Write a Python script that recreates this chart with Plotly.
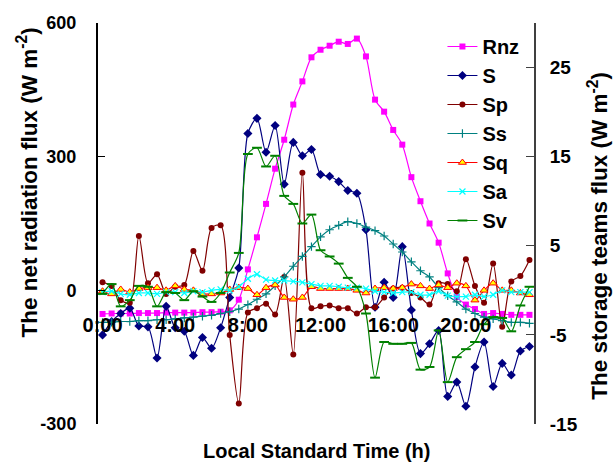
import plotly.graph_objects as go

hours = [i * 0.5 for i in range(48)]
tick_vals = [0, 4, 8, 12, 16, 20]
tick_text = ["0:00", "4:00", "8:00", "12:00", "16:00", "20:00"]

Rnz = [-53, -52, -52, -52, -51, -51, -51, -50, -50, -50, -50, -49, -49, -48, -45, -21,
       47, 119, 194, 273, 338, 417, 469, 523, 540, 549, 558, 553, 565, 525, 428, 401,
       360, 327, 254, 200, 150, 107, 38, -15, -32, -42, -53, -51, -53, -55, -55, -55]
S = [-5.0, -3.5, -2.6, -2.0, -4.0, -4.1, -7.6, -1.8, -4.2, -4.6, -7.3, -5.3, -6.5, -4.2, -0.8, 2.5,
     17.6, 19.3, 15.5, 18.5, 11.9, 16.6, 15.1, 15.8, 13.0, 12.8, 12.2, 11.2, 10.9, 6.8, -1.9, 0.9,
     -0.8, 4.9, -2.2, -7.1, -6.0, -4.5, -11.9, -10.3, -13.0, -8.6, -5.8, -10.8, -8.2, -9.5, -6.8, -6.3]
Sp = [0.9, 0.5, -1.1, -1.4, 6.1, 0.8, 1.8, -0.4, 0.4, 0.6, 4.4, 2.2, 7.0, 7.3, -5.0, -12.7,
      -2.5, -2.0, -1.5, -2.7, 1.5, -7.2, 13.2, -2.0, -1.8, -1.7, -2.0, -2.0, -2.6, -1.9, -1.9, -0.8,
      0.2, 0.3, -0.3, -0.8, -1.6, 0.8, 0.7, -0.1, 3.5, 0.5, -1.4, 3.0, -4.1, 1.0, 1.6, 3.4]
Ss = [-3.6, -3.6, -3.5, -3.5, -3.4, -3.4, -3.3, -3.3, -3.2, -3.1, -3.0, -2.9, -2.8, -2.6, -2.4, -2.1,
      -1.6, -1.0, -0.4, 0.5, 1.5, 2.7, 3.8, 4.9, 6.0, 6.8, 7.3, 7.7, 7.5, 7.1, 6.7, 6.1,
      5.2, 4.3, 3.2, 2.2, 1.5, 0.3, -0.6, -1.3, -2.1, -2.6, -3.0, -3.2, -3.4, -3.6, -3.6, -3.7]
Sq = [-0.1, -0.4, 0.1, -0.2, 0.2, 0.3, 0.3, 0.0, 0.5, 0.1, 0.0, -0.4, -0.4, -0.3, 0.1, 0.3,
      0.2, -0.5, 0.3, 0.6, -0.8, -1.0, -0.8, 0.4, 0.2, 0.2, 0.2, 0.2, 0.0, -0.3, 0.2, 0.3,
      0.2, 0.3, 0.7, 0.5, 0.2, 0.6, 0.3, 0.8, 0.5, -1.1, 0.0, 0.8, 0.0, 0.0, -0.3, -0.5]
Sa = [-0.2, -0.1, -0.4, -0.5, -0.3, -0.3, -0.4, -0.2, -0.2, -0.3, -0.1, -0.2, 0.0, 0.1, 0.0, 0.4,
      1.3, 1.8, 1.2, 1.1, 1.1, 1.0, 0.9, 0.7, 0.5, 0.5, 0.4, 0.3, 0.3, 0.2, -0.1, -0.2,
      -0.3, -0.2, -0.2, -0.5, -0.5, -0.1, -0.6, -0.7, -0.7, -0.5, -0.7, -0.5, 0.0, -0.2, -0.2, -0.2]
Sv = [-0.4, 0.7, -1.8, -1.1, 0.5, 0.4, -1.8, -0.2, -0.3, -1.1, -0.1, -0.7, -1.3, -0.3, 2.0, 4.2,
      15.3, 16.0, 13.9, 15.1, 10.6, 9.7, 7.5, 8.5, 4.5, 3.8, 3.0, 1.4, 0.4, -2.6, -9.8, -5.8,
      -6.0, -6.0, -5.9, -8.9, -8.6, -4.5, -10.3, -7.5, -6.6, -5.8, -3.8, -3.0, -3.1, -4.6, -1.7, 0.4]

FONT = "Arial, Liberation Sans, sans-serif"
X_RANGE = [-0.25, 23.75]

fig = go.Figure()

def add(name, y, color, symbol, size, axis, mcolor=None, mline=None, lw=1.2):
    marker = dict(symbol=symbol, size=size, color=mcolor or color)
    if mline is not None:
        marker["line"] = mline
    fig.add_trace(go.Scatter(
        x=hours, y=y, name="<b>%s</b>" % name, yaxis=axis, mode="lines+markers",
        line=dict(color=color, width=lw, shape="spline", smoothing=0.8),
        marker=marker))

add("Rnz", Rnz, "#FF00FF", "square", 6, "y")
add("S", S, "#000080", "diamond", 7, "y2")
add("Sp", Sp, "#800000", "circle", 6, "y2")
add("Ss", Ss, "#008080", "cross-thin", 6, "y2", mline=dict(color="#008080", width=1.2))
add("Sq", Sq, "#FF0000", "triangle-up", 7, "y2", mcolor="#FFFF00", mline=dict(color="#FF0000", width=1))
add("Sa", Sa, "#00FFFF", "x-thin", 6, "y2", mline=dict(color="#00FFFF", width=1.2))
add("Sv", Sv, "#008000", "line-ew", 7, "y2", mline=dict(color="#008000", width=2))

fig.update_layout(
    width=614, height=464,
    margin=dict(l=98, r=80, t=23, b=40, autoexpand=False),
    paper_bgcolor="white", plot_bgcolor="white",
    font=dict(family=FONT, color="black", size=19),
    showlegend=True,
    legend=dict(x=0.79, y=0.99, xanchor="left", yanchor="top",
                bgcolor="rgba(0,0,0,0)", font=dict(size=20, family=FONT),
                itemwidth=30, tracegroupgap=0),
    # tick labels (placed below the zero line, as in the reference)
    xaxis=dict(range=X_RANGE, tickmode="array", tickvals=tick_vals,
               ticktext=["<b>%s</b>" % t for t in tick_text], automargin=False,
               anchor="free", position=0.283, showline=False,
               ticks="", showgrid=False, zeroline=False,
               tickfont=dict(size=20)),
    # zero-line axis with small tick marks
    xaxis2=dict(range=X_RANGE, overlaying="x", anchor="free", position=1/3,
                showline=True, linecolor="#808080", linewidth=3, showticklabels=False,
                ticks="inside", tickmode="linear", tick0=-0.25, dtick=4, ticklen=6,
                tickcolor="#808080", tickwidth=1, showgrid=False, zeroline=False,
                automargin=False, layer="below traces"),
    yaxis=dict(range=[-300, 600], tickmode="array", tickvals=[-300, 0, 300, 600],
               ticktext=["<b>-300</b>", "<b>0</b>", "<b>300</b>", "<b>600</b>"],
               ticks="inside", ticklen=7, tickcolor="black", showline=True, automargin=False,
               linecolor="black", linewidth=2, showgrid=False, zeroline=False,
               tickfont=dict(size=18), ticklabelstandoff=16),
    yaxis2=dict(range=[-15, 30], overlaying="y", side="right", tickmode="array",
                tickvals=[-15, -5, 5, 15, 25], automargin=False,
                ticktext=["<b>-15</b>", "<b>-5</b>", "<b>5</b>", "<b>15</b>", "<b>25</b>"],
                ticks="inside", ticklen=8, tickcolor="#404040", showline=True,
                linecolor="#404040", linewidth=2, showgrid=False, zeroline=False,
                tickfont=dict(size=19), ticklabelstandoff=10),
    annotations=[
        dict(text="<b>The net radiation flux (W m<sup>-2</sup>)</b>", xref="paper", yref="paper",
             x=-0.163, y=0.602, textangle=-90, showarrow=False, xanchor="center",
             yanchor="middle", font=dict(size=22.5)),
        dict(text="<b>The storage teams flux (W m<sup>-2</sup>)</b>", xref="paper", yref="paper",
             x=1.145, y=0.47, textangle=-90, showarrow=False, xanchor="center",
             yanchor="middle", font=dict(size=22.5)),
        dict(text="<b>Local Standard Time (h)</b>", xref="paper", yref="paper",
             x=0.50, y=-0.068, showarrow=False, xanchor="center", yanchor="middle",
             font=dict(size=20)),
    ],
)

fig.write_html("out.html", config={"displayModeBar": False},
               post_script="document.body.style.margin='0';")
